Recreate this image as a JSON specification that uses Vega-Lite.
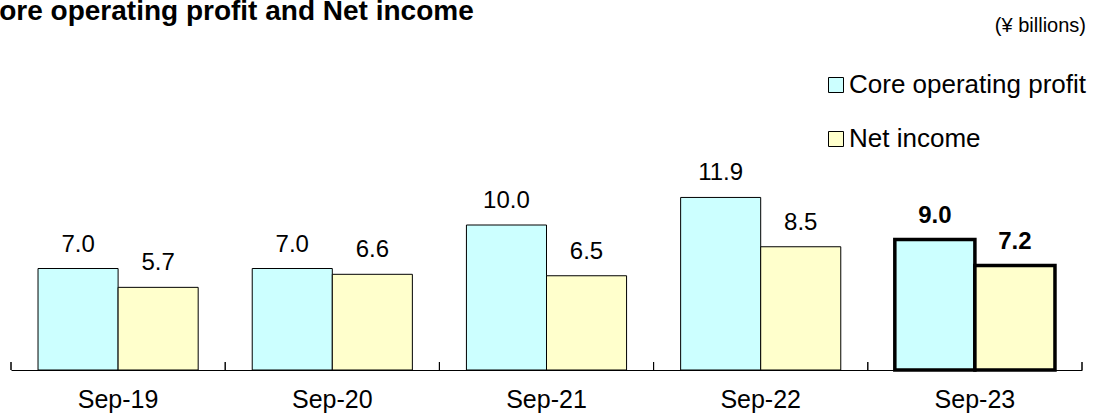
{
  "$schema": "https://vega.github.io/schema/vega-lite/v6.json",
  "width": 1071,
  "height": 203,
  "autosize": {"type": "none"},
  "padding": {"left": 11, "top": 167, "right": 12, "bottom": 44},
  "background": "white",
  "config": {"view": {"stroke": null}, "font": "Liberation Sans"},
  "title": {
    "text": "Core operating profit and Net income",
    "anchor": "start",
    "frame": "group",
    "font": "Liberation Sans",
    "fontSize": 28,
    "fontWeight": "bold",
    "color": "#000",
    "dx": -32,
    "dy": 10,
    "offset": 0
  },
  "data": {
    "values": [
      {"period": "Sep-19", "series": "Core operating profit", "value": 7.0},
      {"period": "Sep-19", "series": "Net income", "value": 5.7},
      {"period": "Sep-20", "series": "Core operating profit", "value": 7.0},
      {"period": "Sep-20", "series": "Net income", "value": 6.6},
      {"period": "Sep-21", "series": "Core operating profit", "value": 10.0},
      {"period": "Sep-21", "series": "Net income", "value": 6.5},
      {"period": "Sep-22", "series": "Core operating profit", "value": 11.9},
      {"period": "Sep-22", "series": "Net income", "value": 8.5},
      {"period": "Sep-23", "series": "Core operating profit", "value": 9.0},
      {"period": "Sep-23", "series": "Net income", "value": 7.2}
    ]
  },
  "encoding": {
    "x": {
      "field": "period",
      "type": "nominal",
      "sort": null,
      "scale": {"paddingInner": 0, "paddingOuter": 0},
      "axis": {
        "title": null,
        "labelAngle": 0,
        "labelFont": "Liberation Sans",
        "labelFontSize": 25,
        "labelColor": "#000",
        "labelPadding": 17,
        "ticks": true,
        "tickSize": 0,
        "domainColor": "#000",
        "grid": false
      }
    },
    "y": {
      "field": "value",
      "type": "quantitative",
      "scale": {"domain": [0, 14], "nice": false, "zero": true},
      "axis": null
    }
  },
  "layer": [
    {
      "mark": {"type": "bar", "stroke": "#000"},
      "encoding": {
        "xOffset": {
          "field": "series",
          "type": "nominal",
          "scale": {"domain": ["Core operating profit", "Net income"], "paddingInner": 0, "paddingOuter": 0.3375}
        },
        "color": {
          "field": "series",
          "type": "nominal",
          "scale": {"domain": ["Core operating profit", "Net income"], "range": ["#CCFFFF", "#FFFFCC"]},
          "legend": {
            "orient": "none",
            "legendX": 812,
            "legendY": -151,
            "title": "(¥ billions)",
            "titleFont": "Liberation Sans",
            "titleFontSize": 20,
            "titleFontWeight": "normal",
            "titleColor": "#000",
            "titleAnchor": "end",
            "titlePadding": 36,
            "labelFont": "Liberation Sans",
            "labelFontSize": 26,
            "labelColor": "#000",
            "labelLimit": 400,
            "labelOffset": 0,
            "symbolType": "square",
            "symbolSize": 225,
            "symbolStrokeColor": "#000",
            "symbolStrokeWidth": 1,
            "symbolOpacity": 1,
            "rowPadding": 28,
            "padding": 0
          }
        },
        "strokeWidth": {"condition": {"test": "datum.period === 'Sep-23'", "value": 3.5}, "value": 1}
      }
    },
    {
      "mark": {"type": "rule", "color": "#000", "strokeWidth": 1},
      "encoding": {
        "x": {"field": "period", "type": "nominal", "sort": null, "bandPosition": 0},
        "y": {"datum": 0},
        "y2": {"datum": 0.55}
      }
    },
    {
      "transform": [{"filter": "datum.period === 'Sep-23'"}],
      "mark": {"type": "rule", "color": "#000", "strokeWidth": 1},
      "encoding": {
        "x": {"field": "period", "type": "nominal", "sort": null, "bandPosition": 1},
        "y": {"datum": 0},
        "y2": {"datum": 0.55}
      }
    },
    {
      "transform": [{"filter": "datum.period !== 'Sep-23'"}],
      "mark": {"type": "text", "baseline": "alphabetic", "dy": -17, "fontSize": 24, "font": "Liberation Sans", "color": "#000"},
      "encoding": {
        "xOffset": {"field": "series", "type": "nominal"},
        "text": {"field": "value", "type": "quantitative", "format": ".1f"}
      }
    },
    {
      "transform": [{"filter": "datum.period === 'Sep-23'"}],
      "mark": {"type": "text", "baseline": "alphabetic", "dy": -17, "fontSize": 24, "font": "Liberation Sans", "fontWeight": "bold", "color": "#000"},
      "encoding": {
        "xOffset": {"field": "series", "type": "nominal"},
        "text": {"field": "value", "type": "quantitative", "format": ".1f"}
      }
    }
  ]
}
